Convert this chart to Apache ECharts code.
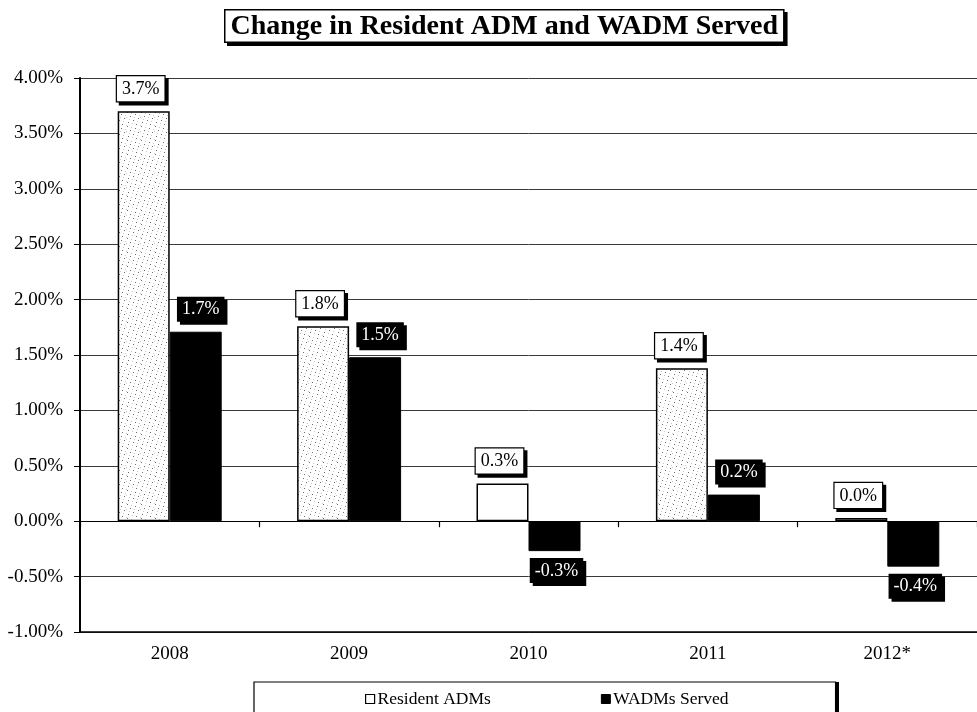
<!DOCTYPE html>
<html>
<head>
<meta charset="utf-8">
<title>Change in Resident ADM and WADM Served</title>
<script src="https://cdn.jsdelivr.net/npm/echarts@6/dist/echarts.min.js"></script>
<style>
  html, body { margin: 0; padding: 0; background: #fff; }
  #chart { width: 977px; height: 712px; }
</style>
</head>
<body>
<div id="chart"></div>
<script>
// Year-over-year change, in percent
const years = ['2008', '2009', '2010', '2011', '2012*'];
const residentADMs = [3.70, 1.76, 0.34, 1.38, 0.03];
const wadmsServed = [1.71, 1.48, -0.27, 0.24, -0.41];
const seriesNames = ['Resident ADMs', 'WADMs Served'];
const axisMin = -1.0;
const axisMax = 4.0;
const axisStep = 0.5;

const SERIF = '"Liberation Serif", "Times New Roman", serif';

// Light dotted fill used for the resident bars
function stipplePattern() {
  const c = document.createElement('canvas');
  c.width = 14; c.height = 14;
  const g = c.getContext('2d');
  g.fillStyle = '#ffffff';
  g.fillRect(0, 0, 14, 14);
  g.fillStyle = '#6e6e6e';
  const dots = [[1,0],[9,2],[4,4],[12,6],[7,8],[2,10],[10,12]];
  dots.forEach(([x, y]) => g.fillRect(x, y, 1, 1));
  g.fillStyle = '#c8c8c8';
  const faint = [[5,1],[13,3],[0,5],[8,5],[3,7],[11,9],[6,11],[0,13]];
  faint.forEach(([x, y]) => g.fillRect(x, y, 1, 1));
  return c;
}
const stipple = { image: stipplePattern(), repeat: 'repeat' };
const plainResident = new Set(['2010', '2012*']);

const pct = v => v.toFixed(1) + '%';

const baseLabel = {
  show: true,
  formatter: p => pct(p.value),
  fontFamily: SERIF,
  fontSize: 18,
  lineHeight: 20,
  padding: [3, 5, 2, 5],
  shadowBlur: 0,
  shadowColor: '#000',
  shadowOffsetX: 3,
  shadowOffsetY: 3
};

const residentData = residentADMs.map((v, i) => ({
  value: v,
  itemStyle: { color: plainResident.has(years[i]) ? '#ffffff' : stipple }
}));

const wadmData = wadmsServed.map(v => ({
  value: v,
  label: v < 0
    ? { position: 'bottom', distance: 7, offset: [2, 0] }
    : { position: 'top', distance: 10, offset: [5, 0] }
}));

const chart = echarts.init(document.getElementById('chart'), null, { renderer: 'canvas' });

chart.setOption({
  backgroundColor: '#ffffff',
  animation: false,
  title: {
    // black outer box forms the frame; the inner white text box sits on it
    text: '{t|Change in Resident ADM and WADM Served}',
    left: 224,
    top: 9,
    padding: 1.5,
    backgroundColor: '#000',
    borderWidth: 0,
    shadowBlur: 0,
    shadowColor: '#000',
    shadowOffsetX: 3,
    shadowOffsetY: 3,
    textStyle: {
      rich: {
        t: {
          fontFamily: SERIF,
          fontSize: 28,
          fontWeight: 'bold',
          color: '#000',
          backgroundColor: '#fff',
          padding: [2, 5, 1, 5]
        }
      }
    }
  },
  graphic: [
    {
      // drop shadow on the right side of the legend frame
      type: 'rect',
      z: 1,
      left: 258,
      top: 682,
      shape: { width: 581, height: 40 },
      style: { fill: '#000' },
      silent: true
    }
  ],
  legend: {
    z: 5,
    data: [
      { name: seriesNames[0], icon: 'rect', itemStyle: { color: '#fff', borderColor: '#000', borderWidth: 1.2 } },
      { name: seriesNames[1], icon: 'rect', itemStyle: { color: '#000', borderColor: '#000', borderWidth: 1 } }
    ],
    left: 254,
    top: 682,
    padding: [8, 107, 30, 111],
    itemWidth: 9,
    itemHeight: 9,
    itemGap: 110,
    backgroundColor: '#ffffff',
    borderColor: '#000',
    borderWidth: 1.2,
    textStyle: { fontFamily: SERIF, fontSize: 17.5, color: '#000', padding: [0, 0, 0, -2] }
  },
  grid: { left: 80, top: 78, width: 906, height: 554, containLabel: false },
  xAxis: [
    {
      type: 'category',
      data: years,
      position: 'bottom',
      axisLine: { onZero: false, lineStyle: { color: '#000', width: 1.5 } },
      axisTick: { show: false },
      axisLabel: { fontFamily: SERIF, fontSize: 19, color: '#000', margin: 13 },
      splitLine: { show: false }
    },
    {
      type: 'category',
      data: years,
      position: 'bottom',
      axisLine: { onZero: true, lineStyle: { color: '#000', width: 1.2 } },
      axisTick: { show: true, length: 6, lineStyle: { color: '#000', width: 1.2 } },
      axisLabel: { show: false },
      splitLine: { show: false }
    }
  ],
  yAxis: {
    type: 'value',
    min: axisMin,
    max: axisMax,
    interval: axisStep,
    axisLine: { show: true, lineStyle: { color: '#000', width: 2 } },
    axisTick: { show: true, length: 6, lineStyle: { color: '#000', width: 1 } },
    axisLabel: {
      formatter: v => v.toFixed(2) + '%',
      fontFamily: SERIF,
      fontSize: 19,
      color: '#000',
      margin: 17
    },
    splitLine: { show: true, lineStyle: { color: '#3a3a3a', width: 1 } }
  },
  series: [
    {
      name: seriesNames[0],
      type: 'bar',
      xAxisIndex: 0,
      barWidth: 52,
      barGap: '0%',
      data: residentData,
      itemStyle: { color: stipple, borderColor: '#000', borderWidth: 1.5 },
      label: Object.assign({}, baseLabel, {
        position: 'top',
        distance: 10,
        offset: [-3, 0],
        color: '#000',
        backgroundColor: '#ffffff',
        borderColor: '#000',
        borderWidth: 1.2
      })
    },
    {
      name: seriesNames[1],
      type: 'bar',
      xAxisIndex: 0,
      barWidth: 52,
      barGap: '0%',
      data: wadmData,
      itemStyle: { color: '#000', borderColor: '#000', borderWidth: 1 },
      label: Object.assign({}, baseLabel, {
        color: '#fff',
        backgroundColor: '#000',
        borderWidth: 0
      })
    }
  ]
});
</script>
</body>
</html>
